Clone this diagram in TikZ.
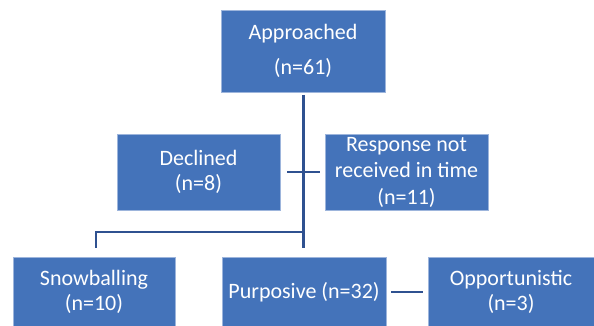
\documentclass[tikz,border=0pt]{standalone}
\usepackage{fontspec}
\setmainfont{Carlito}
\definecolor{boxfill}{HTML}{4473BA}
\definecolor{boxedge}{HTML}{9DB5DC}
\definecolor{linkcol}{HTML}{2F5190}
\begin{document}
\begin{tikzpicture}[x=1pt,y=1pt,
  box/.style={fill=boxfill,draw=boxedge,line width=0.7pt,text=white,align=center,
    inner sep=0pt,font=\fontsize{22}{25.5}\selectfont},
  link/.style={draw=linkcol,line width=2.8pt}]
\clip (0,0) rectangle (594,326);
\fill[white] (0,0) rectangle (594,326);
% nodes
\node[box,minimum width=164,minimum height=82,font=\fontsize{22}{35}\selectfont] (app) at (303,275) {Approached\\(n=61)};
\node[box,minimum width=163,minimum height=76] (dec) at (198.5,154) {Declined\\(n=8)};
\node[box,minimum width=163,minimum height=76,font=\fontsize{22}{26.5}\selectfont] (res) at (406.5,154) {Response not\\received in time\\(n=11)};
\node[box,minimum width=162,minimum height=70] (snow) at (94,34) {Snowballing\\(n=10)};
\node[box,minimum width=164,minimum height=70] (pur) at (304,34) {Purposive (n=32)};
\node[box,minimum width=166,minimum height=70] (opp) at (511,34) {Opportunistic\\(n=3)};
% junction coordinates
\coordinate (jb) at (303.7,94);
\coordinate (jl) at (96,94);
% connectors
\draw[link] (303.7,231) coordinate (top) -- (303.7,78) coordinate (bot);
\draw[link,shorten <=7pt,shorten >=5pt] (dec.east) -- (res.west);
\draw[link] (jb) -- (jl) -- (96,78) coordinate (sbot);
\draw[link,shorten <=5pt,shorten >=5pt] (pur.east) -- (opp.west);
\end{tikzpicture}
\end{document}
